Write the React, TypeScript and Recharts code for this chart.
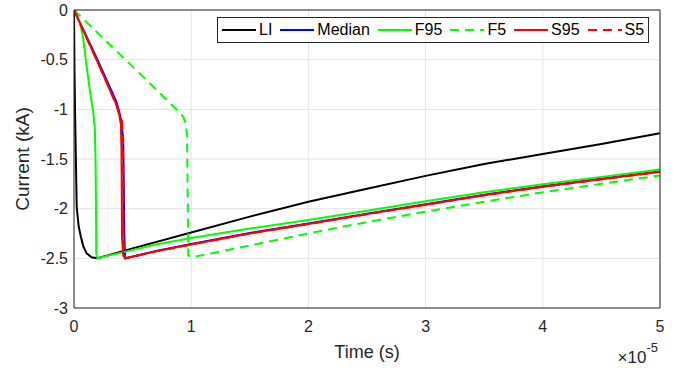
import { CartesianGrid, Legend, Line, LineChart, XAxis, YAxis } from "recharts"

const FONT = '"Liberation Sans", Arial, Helvetica, sans-serif'
const AXIS = "#262626"
const GRID = "#e3e3e3"

// time in units of 1e-5 s, current in kA
const timeTicks = [0, 1, 2, 3, 4, 5]
const currentTicks = [-3, -2.5, -2, -1.5, -1, -0.5, 0]

const liTime = [0, 0.004, 0.01, 0.015, 0.023, 0.04, 0.06, 0.08, 0.108, 0.15, 0.2, 0.5, 1, 1.5, 2, 2.5, 3, 3.5, 4, 4.5, 5]
const liCurrent = [0, -0.6, -1.1, -1.44, -1.98, -2.18, -2.29, -2.38, -2.45, -2.49, -2.5, -2.4, -2.24, -2.08, -1.93, -1.8, -1.67, -1.55, -1.45, -1.35, -1.24]

const medianTime = [0, 0.2, 0.36, 0.38, 0.4, 0.42, 0.43, 0.435, 0.44, 0.7, 1, 1.5, 2, 2.5, 3, 3.5, 4, 4.5, 5]
const medianCurrent = [0, -0.5, -0.92, -1.0, -1.1, -1.3, -2.3, -2.47, -2.5, -2.425, -2.355, -2.245, -2.15, -2.05, -1.955, -1.86, -1.775, -1.7, -1.625]

const f95Time = [0, 0.05, 0.08, 0.108, 0.14, 0.165, 0.178, 0.185, 0.19, 0.2, 0.3, 0.45, 0.7, 1, 1.5, 2, 2.5, 3, 3.5, 4, 4.5, 5]
const f95Current = [0, -0.12, -0.3, -0.57, -0.85, -1.04, -1.2, -1.6, -2.45, -2.5, -2.47, -2.43, -2.36, -2.295, -2.2, -2.115, -2.02, -1.925, -1.835, -1.755, -1.68, -1.605]

const f5Time = [0, 0.5, 0.9, 0.935, 0.955, 0.965, 0.975, 1.0, 1.5, 2, 2.5, 3, 3.5, 4, 4.5, 5]
const f5Current = [0, -0.57, -1.03, -1.08, -1.15, -1.3, -2.47, -2.49, -2.37, -2.25, -2.135, -2.03, -1.93, -1.835, -1.75, -1.665]

const s95Time = [0, 0.2, 0.36, 0.385, 0.4, 0.405, 0.41, 0.42, 0.435, 0.7, 1, 1.5, 2, 2.5, 3, 3.5, 4, 4.5, 5]
const s95Current = [0, -0.52, -0.95, -1.05, -1.15, -1.4, -2.3, -2.47, -2.5, -2.43, -2.36, -2.25, -2.155, -2.055, -1.96, -1.865, -1.78, -1.705, -1.628]

const s5Time = [0, 0.2, 0.36, 0.385, 0.41, 0.418, 0.422, 0.43, 0.44, 0.7, 1, 1.5, 2, 2.5, 3, 3.5, 4, 4.5, 5]
const s5Current = [0, -0.52, -0.95, -1.04, -1.12, -1.3, -2.3, -2.47, -2.5, -2.43, -2.36, -2.25, -2.155, -2.055, -1.96, -1.865, -1.78, -1.705, -1.63]

const toPoints = (t: number[], i: number[]) => t.map((x, k) => ({ t: x, i: i[k] }))

const series = [
  { name: "LI", color: "#000000", dash: undefined, data: toPoints(liTime, liCurrent) },
  { name: "Median", color: "#0000ff", dash: undefined, data: toPoints(medianTime, medianCurrent) },
  { name: "F95", color: "#00ff00", dash: undefined, data: toPoints(f95Time, f95Current) },
  { name: "F5", color: "#00ff00", dash: "9 6", data: toPoints(f5Time, f5Current) },
  { name: "S95", color: "#ff0000", dash: undefined, data: toPoints(s95Time, s95Current) },
  { name: "S5", color: "#ff0000", dash: "9 6", data: toPoints(s5Time, s5Current) },
]

function LegendBox() {
  return (
    <div
      style={{
        display: "flex",
        alignItems: "center",
        height: 24,
        padding: "0 4px 0 4px",
        border: `1px solid ${AXIS}`,
        background: "#fff",
        fontFamily: FONT,
        fontSize: 16,
        color: "#000",
        whiteSpace: "nowrap",
      }}
    >
      {series.map((s, k) => (
        <div key={s.name} style={{ display: "flex", alignItems: "center", marginLeft: k ? 8 : 0 }}>
          <svg width={34} height={24}>
            <line x1={0} x2={34} y1={12} y2={12} stroke={s.color} strokeWidth={2} strokeDasharray={s.dash} />
          </svg>
          <span style={{ marginLeft: 3 }}>{s.name}</span>
        </div>
      ))}
    </div>
  )
}

function TimeLabel({ viewBox }: any) {
  const { x, y, width, height } = viewBox
  return (
    <g fontFamily={FONT} fill={AXIS}>
      <text x={x + width / 2} y={y + height - 10} textAnchor="middle" fontSize={18}>
        Time (s)
      </text>
      <text x={x + width - 2} y={y + height - 5} textAnchor="end" fontSize={17}>
        ×10<tspan dy={-11} fontSize={13}>-5</tspan>
      </text>
    </g>
  )
}

function CurrentLabel({ viewBox }: any) {
  const cy = viewBox.y + viewBox.height / 2
  return (
    <text
      x={29}
      y={cy}
      transform={`rotate(-90, 29, ${cy})`}
      textAnchor="middle"
      fontSize={19}
      fontFamily={FONT}
      fill={AXIS}
    >
      Current (kA)
    </text>
  )
}

const tickStyle = { fill: AXIS, fontSize: 16, fontFamily: FONT }

export default function App() {
  return (
    <div style={{ position: "absolute", left: 0, top: 0, background: "#fff" }}>
      <LineChart width={681} height={368} margin={{ top: 10, right: 21, bottom: 0, left: 0 }}>
        <CartesianGrid stroke={GRID} strokeWidth={1} />
        <XAxis
          dataKey="t"
          type="number"
          domain={[0, 5]}
          ticks={timeTicks}
          interval={0}
          allowDataOverflow
          height={60}
          tickLine={false}
          tickSize={6}
          tickMargin={7}
          axisLine={{ stroke: AXIS }}
          tick={tickStyle}
          label={<TimeLabel />}
        />
        <XAxis
          xAxisId="top"
          orientation="top"
          mirror
          type="number"
          domain={[0, 5]}
          ticks={timeTicks}
          interval={0}
          allowDataOverflow
          tick={false}
          tickSize={5}
          tickLine={{ stroke: AXIS }}
          axisLine={{ stroke: AXIS }}
        />
        <XAxis
          xAxisId="bottomIn"
          orientation="bottom"
          mirror
          type="number"
          domain={[0, 5]}
          ticks={timeTicks}
          interval={0}
          allowDataOverflow
          tick={false}
          tickSize={5}
          tickLine={{ stroke: AXIS }}
          axisLine={false}
        />
        <YAxis
          type="number"
          domain={[-3, 0]}
          ticks={currentTicks}
          interval={0}
          allowDataOverflow
          width={74}
          tickLine={false}
          tickSize={6}
          tickMargin={0}
          axisLine={{ stroke: AXIS }}
          tick={tickStyle}
          label={<CurrentLabel />}
        />
        <YAxis
          yAxisId="right"
          orientation="right"
          mirror
          type="number"
          domain={[-3, 0]}
          ticks={currentTicks}
          interval={0}
          allowDataOverflow
          tick={false}
          tickSize={5}
          tickLine={{ stroke: AXIS }}
          axisLine={{ stroke: AXIS }}
        />
        <YAxis
          yAxisId="leftIn"
          orientation="left"
          mirror
          type="number"
          domain={[-3, 0]}
          ticks={currentTicks}
          interval={0}
          allowDataOverflow
          tick={false}
          tickSize={5}
          tickLine={{ stroke: AXIS }}
          axisLine={false}
        />
        {series.map((s) => (
          <Line
            key={s.name}
            data={s.data}
            dataKey="i"
            name={s.name}
            type="linear"
            stroke={s.color}
            strokeWidth={2}
            strokeDasharray={s.dash}
            dot={false}
            activeDot={false}
            isAnimationActive={false}
          />
        ))}
        <Legend
          layout="vertical"
          align="center"
          verticalAlign="middle"
          content={<LegendBox />}
          wrapperStyle={{ left: 217, top: 17, width: "auto" }}
        />
      </LineChart>
    </div>
  )
}
